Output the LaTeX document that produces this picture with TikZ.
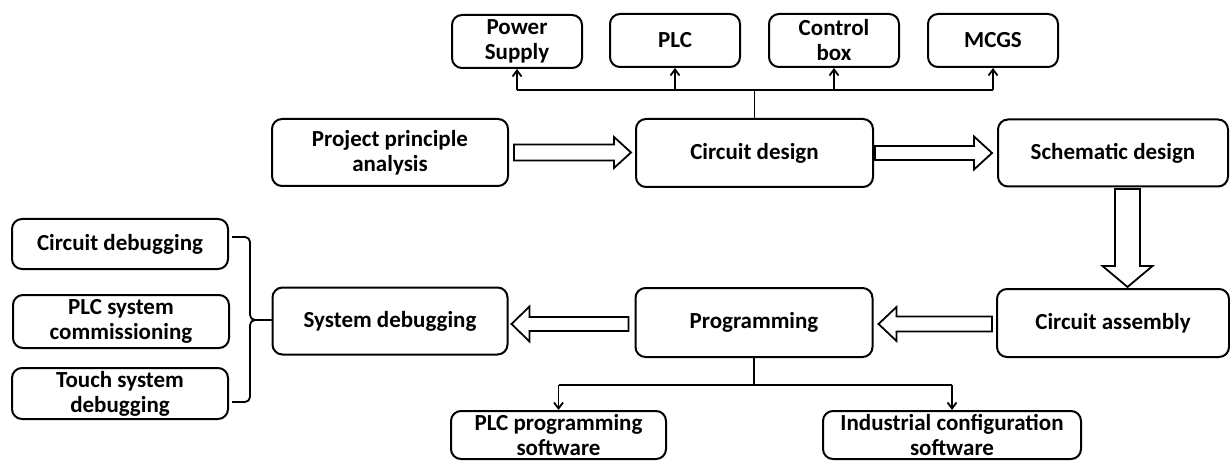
\documentclass[tikz,border=0pt]{standalone}
\usepackage{fontspec}
\setmainfont{Carlito}
\usetikzlibrary{arrows.meta,calc}
\newcommand\hollowarr[5]{%
  \coordinate (hT) at #1; \coordinate (hP) at #2;
  \coordinate (hH) at ($(hP)!#5!(hT)$);
  \draw[hollow] ($(hT)!#3!90:(hP)$) -- ($(hH)!#3!-90:(hT)$) -- ($(hH)!#4!-90:(hT)$) -- (hP)
    -- ($(hH)!#4!90:(hT)$) -- ($(hH)!#3!90:(hT)$) -- ($(hT)!#3!-90:(hP)$) -- cycle;}
\begin{document}
\begin{tikzpicture}[x=1pt,y=-1pt,
  box/.style={draw, line width=2pt, rounded corners=10pt, align=center,
    font=\fontsize{23}{25}\selectfont\bfseries, inner sep=0pt},
  conn/.style={line width=1.8pt},
  tipped/.style={conn,-{Straight Barb[length=6pt,width=9pt,line width=1.8pt]}},
  hollow/.style={draw, line width=1.8pt, fill=white, line join=miter}]
\useasboundingbox (0,0) rectangle (1230,462);
% top row
\node[box, minimum width=130pt, minimum height=53pt] (ps) at (517,41.5) {Power\\Supply};
\node[box, minimum width=130pt, minimum height=53pt] (plc) at (675,40.5) {PLC};
\node[box, minimum width=130pt, minimum height=53pt] (cbx) at (834,40.5) {Control\\box};
\node[box, minimum width=130pt, minimum height=53pt] (mcgs) at (993,40.5) {MCGS};
% second row
\node[box, minimum width=236pt, minimum height=67pt] (ppa) at (390,152.5) {Project principle\\analysis};
\node[box, minimum width=237pt, minimum height=68pt] (cd) at (754.5,153) {Circuit design};
\node[box, minimum width=230pt, minimum height=67pt] (sd) at (1113,153) {Schematic design};
% third row
\node[box, minimum width=232pt, minimum height=68pt] (ca) at (1113,323) {Circuit assembly};
\node[box, minimum width=237pt, minimum height=69pt] (prog) at (754,322.5) {Programming};
\node[box, minimum width=235pt, minimum height=67pt] (sysd) at (390,321) {System debugging};
% left column
\node[box, minimum width=216pt, minimum height=50pt] (cdbg) at (120,244) {Circuit debugging};
\node[box, minimum width=216pt, minimum height=53pt] (plcsc) at (121,321.5) {PLC system\\commissioning};
\node[box, minimum width=216pt, minimum height=51pt] (tsd) at (120,393.5) {Touch system\\debugging};
% bottom row
\node[box, minimum width=215pt, minimum height=48pt] (plcps) at (558.5,435) {PLC programming\\software};
\node[box, minimum width=258pt, minimum height=48pt] (ics) at (952,435) {Industrial configuration\\software};
% top connectors
\coordinate (tj) at (754.5,90);
\draw[conn] (cd.north) -- (tj);
\draw[conn] (ps.south|-tj) -- (mcgs.south|-tj);
\foreach \n in {ps,plc,cbx,mcgs} \draw[tipped] (\n.south|-tj) -- (\n.south);
% bottom connectors
\coordinate (bj) at (754,385);
\draw[conn] (prog.south) -- (bj);
\draw[conn] (plcps.north|-bj) -- (ics.north|-bj);
\foreach \n in {plcps,ics} \draw[tipped] (\n.north|-bj) -- (\n.north);
% hollow arrows
\hollowarr{($(ppa.east)+(5,0)$)}{($(cd.west|-ppa.east)+(-4,0)$)}{8pt}{15.5pt}{17pt}
\hollowarr{($(cd.east)+(1,0)$)}{($(sd.west|-cd.east)+(-5,0)$)}{7pt}{16.5pt}{18pt}
\hollowarr{($(sd.south)+(14.5,1.5)$)}{($(ca.north)+(14.5,-1)$)}{12.5pt}{25pt}{21pt}
\hollowarr{($(ca.west)+(-4,1)$)}{($(prog.east|-ca.west)+(5,1)$)}{7.5pt}{17pt}{18pt}
\hollowarr{($(prog.west)+(-6,1.5)$)}{($(sysd.east|-prog.west)+(3,1.5)$)}{7pt}{17.5pt}{18pt}
% bracket
\coordinate (bt) at (232,237);
\coordinate (bb) at (232,402);
\coordinate (bm) at (250,320);
\draw[conn, rounded corners=5pt] (bt) -- (bm|-bt) -- (bm) -- (sysd.west|-bm);
\draw[conn, rounded corners=5pt] (bb) -- (bm|-bb) -- (bm) -- (sysd.west|-bm);
\end{tikzpicture}
\end{document}
